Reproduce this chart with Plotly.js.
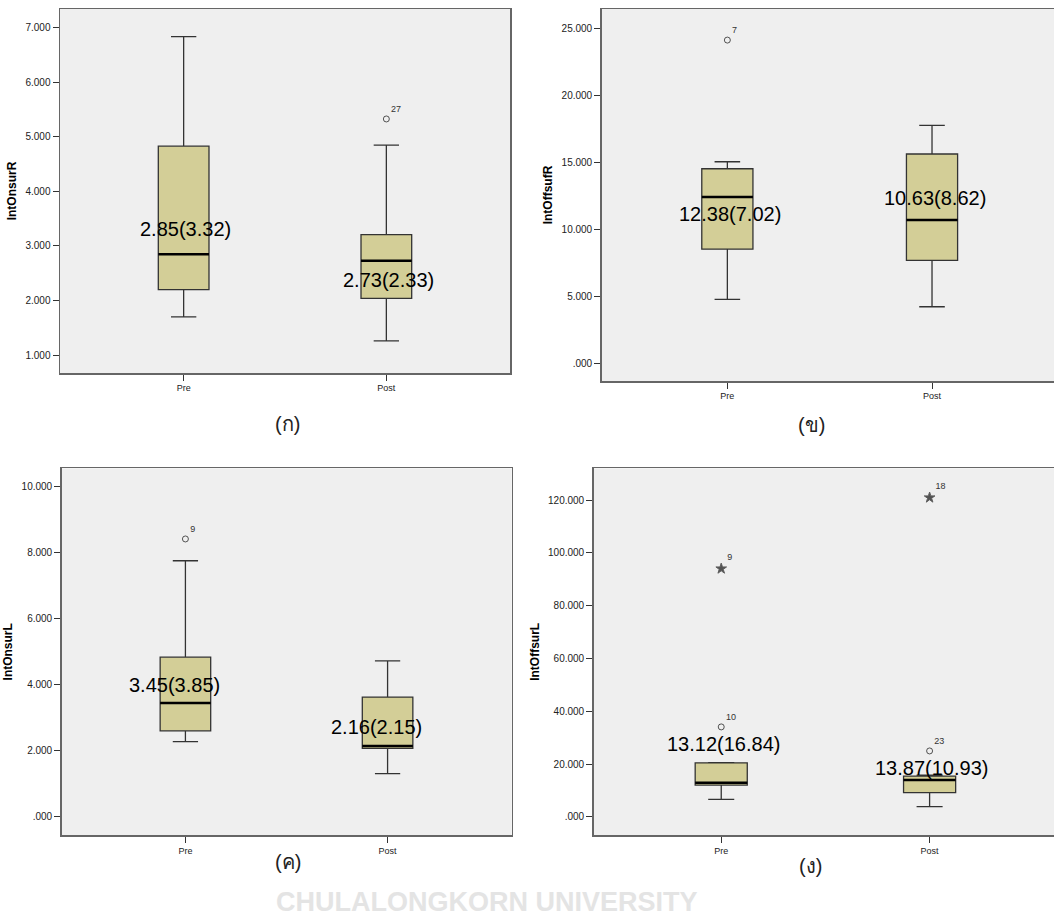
<!DOCTYPE html>
<html>
<head>
<meta charset="utf-8">
<script src="https://cdn.plot.ly/plotly-3.0.1.min.js"></script>
<style>html,body{margin:0;padding:0;background:#fff;}#chart{width:1054px;height:919px;}</style>
</head>
<body>
<div id="chart"></div>
<script>
// ---------- data ----------
const categories = ['Pre', 'Post'];

// (ก) IntOnsurR
const onR_lower  = [1.70, 1.26];
const onR_q1     = [2.20, 2.04];
const onR_median = [2.85, 2.73];
const onR_q3     = [4.83, 3.21];
const onR_upper  = [6.84, 4.85];
const onR_outCat = ['Post'];
const onR_outVal = [5.33];
const onR_outId  = ['27'];
const onR_outSym = ['circle-open'];
const onR_labels = ['2.85(3.32)', '2.73(2.33)'];
const onR_labelY = [3.32, 2.37];
const onR_ticks  = [1, 2, 3, 4, 5, 6, 7];
const onR_tickText = ['1.000', '2.000', '3.000', '4.000', '5.000', '6.000', '7.000'];

// (ข) IntOffsufR
const offR_lower  = [4.75, 4.20];
const offR_q1     = [8.50, 7.66];
const offR_median = [12.40, 10.67];
const offR_q3     = [14.50, 15.60];
const offR_upper  = [15.02, 17.74];
const offR_outCat = ['Pre'];
const offR_outVal = [24.1];
const offR_outId  = ['7'];
const offR_outSym = ['circle-open'];
const offR_labels = ['12.38(7.02)', '10.63(8.62)'];
const offR_labelY = [11.12, 12.29];
const offR_ticks  = [0, 5, 10, 15, 20, 25];
const offR_tickText = ['.000', '5.000', '10.000', '15.000', '20.000', '25.000'];

// (ค) IntOnsurL
const onL_lower  = [2.28, 1.31];
const onL_q1     = [2.61, 2.08];
const onL_median = [3.45, 2.15];
const onL_q3     = [4.84, 3.63];
const onL_upper  = [7.76, 4.73];
const onL_outCat = ['Pre'];
const onL_outVal = [8.42];
const onL_outId  = ['9'];
const onL_outSym = ['circle-open'];
const onL_labels = ['3.45(3.85)', '2.16(2.15)'];
const onL_labelY = [4.0, 2.71];
const onL_ticks  = [0, 2, 4, 6, 8, 10];
const onL_tickText = ['.000', '2.000', '4.000', '6.000', '8.000', '10.000'];

// (ง) IntOffsurL
const offL_lower  = [6.7, 3.9];
const offL_q1     = [12.1, 9.2];
const offL_median = [13.0, 14.0];
const offL_q3     = [20.5, 15.5];
const offL_upper  = [20.6, 15.8];
const offL_outCat = ['Pre', 'Pre', 'Post', 'Post'];
const offL_outVal = [34.1, 94.0, 25.0, 120.9];
const offL_outId  = ['10', '9', '23', '18'];
const offL_outSym = ['circle-open', 'star', 'circle-open', 'star'];
const offL_labels = ['13.12(16.84)', '13.87(10.93)'];
const offL_labelY = [27.5, 18.4];
const offL_ticks  = [0, 20, 40, 60, 80, 100, 120];
const offL_tickText = ['.000', '20.000', '40.000', '60.000', '80.000', '100.000', '120.000'];

const yTitles = ['IntOnsurR', 'IntOffsufR', 'IntOnsurL', 'IntOffsurL'];
const captions = ['(ก)', '(ข)', '(ค)', '(ง)'];

// ---------- build ----------
const BOXW = 0.25;
const panels = [
  {ax: '', lower: onR_lower, q1: onR_q1, med: onR_median, q3: onR_q3, upper: onR_upper,
   oc: onR_outCat, ov: onR_outVal, oi: onR_outId, os: onR_outSym, lt: onR_labels, ly: onR_labelY, lshift: 2,
   tv: onR_ticks, tt: onR_tickText,
   xd: [60/1054, 510/1054], yd: [1-373/919, 1-9/919], xr: [-0.61, 1.61], yr: [0.67, 7.347],
   cap: [274, 424]},
  {ax: '2', lower: offR_lower, q1: offR_q1, med: offR_median, q3: offR_q3, upper: offR_upper,
   oc: offR_outCat, ov: offR_outVal, oi: offR_outId, os: offR_outSym, lt: offR_labels, ly: offR_labelY, lshift: 3,
   tv: offR_ticks, tt: offR_tickText,
   xd: [601.7/1054, 1], yd: [1-381/919, 1-9/919], xr: [-0.614, 1.596], yr: [-1.34, 26.42],
   cap: [826, 425]},
  {ax: '3', lower: onL_lower, q1: onL_q1, med: onL_median, q3: onL_q3, upper: onL_upper,
   oc: onL_outCat, ov: onL_outVal, oi: onL_outId, os: onL_outSym, lt: onL_labels, ly: onL_labelY, lshift: -11,
   tv: onL_ticks, tt: onL_tickText,
   xd: [61.7/1054, 511.7/1054], yd: [1-835.3/919, 1-468.3/919], xr: [-0.612, 1.614], yr: [-0.555, 10.56],
   cap: [274, 874]},
  {ax: '4', lower: offL_lower, q1: offL_q1, med: offL_median, q3: offL_q3, upper: offL_upper,
   oc: offL_outCat, ov: offL_outVal, oi: offL_outId, os: offL_outSym, lt: offL_labels, ly: offL_labelY, lshift: 2,
   tv: offL_ticks, tt: offL_tickText,
   xd: [593.7/1054, 1], yd: [1-835.3/919, 1-468.3/919], xr: [-0.612, 1.597], yr: [-6.93, 132.0],
   cap: [823, 878]}
];

const data = [];
const layout = {
  width: 1054, height: 919,
  margin: {l: 0, r: 0, t: 0, b: 0},
  paper_bgcolor: '#ffffff',
  plot_bgcolor: '#efefef',
  showlegend: false,
  font: {family: 'Liberation Sans, Arial, sans-serif', color: '#222'},
  annotations: [], shapes: []
};

// watermark text (drawn first so it sits beneath other text)
layout.annotations.push({xref: 'paper', yref: 'paper', x: 487/1054, y: 1 - 918/919,
  yanchor: 'bottom', borderpad: 0,
  text: 'CHULALONGKORN UNIVERSITY', showarrow: false,
  font: {size: 27, color: '#e4e4e4', weight: 700, family: 'Liberation Sans Narrow, Liberation Sans, Arial, sans-serif'}});

panels.forEach((p, i) => {
  const xa = 'x' + p.ax, ya = 'y' + p.ax;
  data.push({
    type: 'box', x: categories, q1: p.q1, median: p.med, q3: p.q3,
    lowerfence: p.lower, upperfence: p.upper,
    xaxis: xa, yaxis: ya, width: BOXW, whiskerwidth: 0.5,
    fillcolor: '#d3ce97', line: {color: '#333333', width: 1.3},
    boxpoints: false, hoverinfo: 'skip', showlegend: false
  });
  data.push({
    type: 'scatter', mode: 'markers+text', x: p.oc, y: p.ov, text: p.oi,
    textposition: 'top right', textfont: {size: 9, color: '#333'},
    marker: {symbol: p.os, size: p.os.map(s => s === 'star' ? 8 : 6), color: '#111',
             line: {color: '#222', width: 1}},
    xaxis: xa, yaxis: ya, hoverinfo: 'skip', showlegend: false, cliponaxis: false
  });
  // median lines (thicker, black) derived from the median values
  p.med.forEach((m, k) => {
    layout.shapes.push({type: 'line', xref: xa, yref: ya,
      x0: k - BOXW/2, x1: k + BOXW/2, y0: m, y1: m,
      line: {color: '#000', width: 2.5}});
  });
  // value labels
  p.lt.forEach((t, k) => {
    layout.annotations.push({xref: xa, yref: ya, x: categories[k], y: p.ly[k], text: t,
      showarrow: false, xshift: p.lshift,
      font: {size: 20, color: '#000', family: 'Liberation Sans, Arial, sans-serif'}});
  });
  // caption
  layout.annotations.push({xref: 'paper', yref: 'paper', x: p.cap[0]/1054, y: 1 - p.cap[1]/919,
    text: captions[i], showarrow: false, borderpad: 0, font: {size: 20, color: '#222'}});

  const right = (p.ax === '2' || p.ax === '4');
  layout['xaxis' + p.ax] = {
    domain: p.xd, anchor: ya, type: 'category', range: p.xr,
    showgrid: false, zeroline: false,
    showline: true, linecolor: '#666', linewidth: 1.5, mirror: true,
    ticks: 'outside', ticklen: 6, tickcolor: '#333', tickwidth: 1,
    tickfont: {size: 9, color: '#222'}, fixedrange: true
  };
  layout['yaxis' + p.ax] = {
    domain: p.yd, anchor: xa, range: p.yr,
    tickvals: p.tv, ticktext: p.tt,
    showgrid: false, zeroline: false,
    showline: true, linecolor: '#666', linewidth: 1.5, mirror: right ? false : true,
    ticks: 'outside', ticklen: 6, tickcolor: '#333', tickwidth: 1,
    tickfont: {size: 10, color: '#222'},
    title: {text: yTitles[i], font: {size: 12, color: '#000', weight: 700}, standoff: 6},
    fixedrange: true
  };
});

Plotly.newPlot('chart', data, layout, {staticPlot: true, displayModeBar: false});
</script>
</body>
</html>
